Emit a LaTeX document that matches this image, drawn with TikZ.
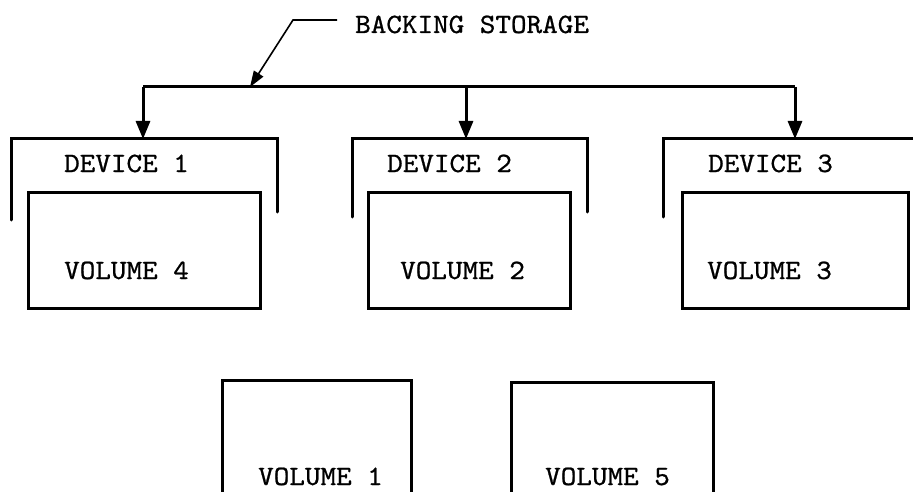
\documentclass[tikz,border=0pt]{standalone}
\usepackage{fontspec}
\newfontfamily\typer[FakeStretch=1.06,FakeBold=0.8]{lmmono10-regular.otf}
\usetikzlibrary{arrows.meta}
\tikzset{
  lbl/.style={font=\typer\fontsize{28}{32}\selectfont,anchor=base west,inner sep=0pt},
  frame/.style={line width=3pt,line join=miter,line cap=round},
  wire/.style={line width=3pt},
  feed/.style={line width=3pt,-{Triangle[length=18pt,width=14pt]}},
  lead/.style={line width=1.6pt,-{Triangle[length=16pt,width=11pt]}},
}
% device bracket: name, left x, right x, left foot, right foot
\newcommand{\DevFrame}[5]{%
  \draw[frame] (#2,#4) -- (#2,139) -- (#3,139) -- (#3,#5);%
}
% volume box: name, x1, y1, x2, y2, text x, text label
\newcommand{\VolBox}[7]{%
  \draw[frame] (#2,#3) rectangle (#4,#5);%
  \node[lbl] (#1) at (#6,279) {#7};%
}

\begin{document}
\begin{tikzpicture}[x=1pt,y=-1pt]
\useasboundingbox (0,0) rectangle (913,492);
\fill[white] (0,0) rectangle (913,492);

% label and leader
\node[lbl,inner xsep=18pt] (backing) at (337,33) {BACKING STORAGE};
\coordinate (kink) at (293,20);
\coordinate (tag) at (250,87);
\draw[lead] (backing.west |- kink) -- (kink) -- (tag);

% bus
\coordinate (bus1) at (143,87);
\coordinate (bus2) at (466,87);
\coordinate (bus3) at (795,87);
\draw[wire,line join=miter] (bus1) -- (bus3);

% devices
\DevFrame{dev1}{11}{277}{220}{212}
\DevFrame{dev2}{352}{587}{217}{212}
\DevFrame{dev3}{663}{920}{217}{212}
\coordinate (top1) at (143,139);
\coordinate (top2) at (466,139);
\coordinate (top3) at (795,139);
\foreach \i in {1,2,3} {
  \draw[feed] (bus\i) -- (top\i);
}
\node[lbl] (devname1) at (64,172) {DEVICE 1};
\node[lbl] (devname2) at (387,172) {DEVICE 2};
\node[lbl] (devname3) at (708,172) {DEVICE 3};

% mounted volumes
\VolBox{vol4}{28}{192}{260}{308}{64}{VOLUME 4}
\VolBox{vol2}{368}{192}{570}{308}{400}{VOLUME 2}
\VolBox{vol3}{682}{192}{908}{308}{707}{VOLUME 3}

% volumes on the shelf
\draw[frame] (222,510) -- (222,380) -- (411,380) -- (411,510);
\draw[frame] (511,510) -- (511,382) -- (713,382) -- (713,510);
\node[lbl] (vol1) at (258,485) {VOLUME 1};
\node[lbl] (vol5) at (545,485) {VOLUME 5};
\end{tikzpicture}
\end{document}
